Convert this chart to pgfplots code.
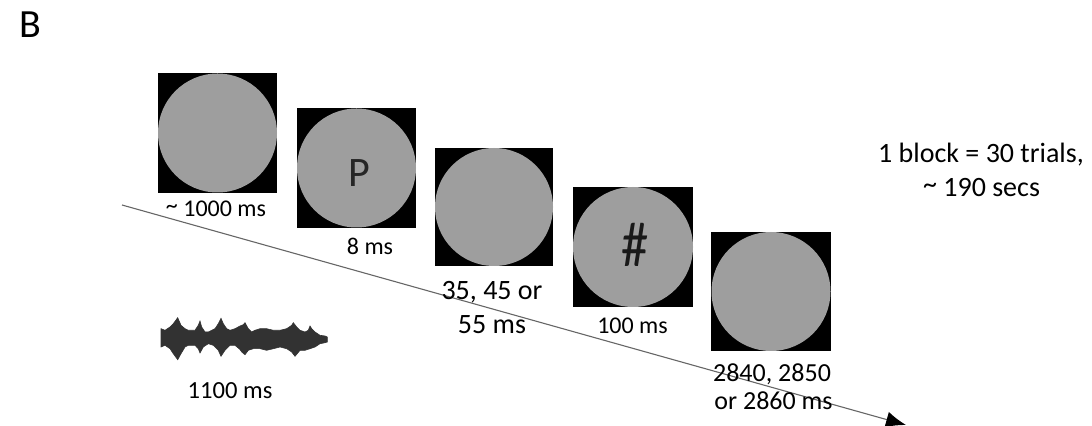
\documentclass[border=0pt]{standalone}
\usepackage{fontspec}
\setmainfont{Carlito}
\usepackage{pgfplots}
\pgfplotsset{compat=1.18}
\usetikzlibrary{arrows.meta}
\definecolor{disc}{RGB}{158,158,158}
\definecolor{wave}{RGB}{50,50,50}
\newcommand{\tld}{\raisebox{0.12em}{\textasciitilde}}
\begin{document}
\begin{tikzpicture}
\begin{axis}[
  width=546pt, height=213pt, scale only axis,
  xmin=0, xmax=1092, ymin=0, ymax=426, y dir=reverse,
  hide axis, clip=true,
]
% time arrow
\addplot[draw=black!60, line width=0.55pt, -{Latex[length=10pt,width=8pt,color=black]}] coordinates {(122,205) (906,425)};
% screens (black squares)
\addplot[fill=black, draw=none] coordinates {(158,73) (277,73) (277,193) (158,193)} -- cycle;
\addplot[fill=black, draw=none] coordinates {(297,108) (416,108) (416,228) (297,228)} -- cycle;
\addplot[fill=black, draw=none] coordinates {(435,148) (553,148) (553,266) (435,266)} -- cycle;
\addplot[fill=black, draw=none] coordinates {(573,187) (693,187) (693,307) (573,307)} -- cycle;
\addplot[fill=black, draw=none] coordinates {(711,232) (831,232) (831,351) (711,351)} -- cycle;
% grey discs
\fill[disc] (axis cs:217.5,133) circle[radius=59.5];
\fill[disc] (axis cs:356.5,168) circle[radius=59.5];
\fill[disc] (axis cs:494,207) circle[radius=59];
\fill[disc] (axis cs:633,247) circle[radius=60];
\fill[disc] (axis cs:771,291.5) circle[radius=59.5];
% sound waveform (envelope)
\addplot[fill=wave, draw=wave, line width=0.3pt] coordinates {
(161,328.7) (165,330.3) (170,327) (173.3,323.7) (177.7,317.7) (181,325.3)
(185,328.7) (188.3,330.3) (191.7,330.3) (195,330.3) (198.3,325.3) (200,321)
(201.7,327) (205,332) (208.3,332) (211.7,330.3) (215,328.7) (218.3,323.7)
(221,318.3) (223.3,323.7) (226.7,328.7) (230,330.3) (235,328.7) (240,326)
(243.3,324.7) (245,322.7) (248.3,328.7) (251.7,332) (255,330.3) (260,328.7)
(266.7,328.7) (273.3,330.3) (280,330.3) (286.7,328.7) (291.7,325.3) (293.3,322.7)
(296.7,327) (300,330.3) (305,332) (308.3,330.3) (310,326) (311.7,328.7)
(315,332) (320,335.3) (325,336) (327.3,337)
(327.3,342) (325,342.7) (320,343.7) (315,347) (310,348.7) (305,350.3)
(300,350.3) (295,356.3) (291.7,352) (286.7,348.7) (280,347) (273.3,348.7)
(266.7,350.3) (260,348.7) (253.3,348.7) (248.3,350.3) (245,354.7) (241.7,352)
(240,349.5) (235,345.3) (230,345.3) (225,350.3) (221,356.3) (218.3,350.3)
(213.3,345.3) (208.3,343.7) (203.3,347) (200,353) (198.3,348.7) (195,345.3)
(188.3,345.3) (185,347) (181,353.7) (177.7,359.7) (173.3,353.7) (170,348.7)
(165,345.3) (161,347)
} -- cycle;
% letters on screens
\node[anchor=center, font=\fontsize{21}{21}\selectfont, text=black!85] at (axis cs:359,173) {P};
\node[anchor=center, font=\fontsize{32}{32}\selectfont, text=black!90, xscale=0.85] at (axis cs:635,245) {\#};
% labels
\node[anchor=base west, font=\fontsize{20}{20}\selectfont] at (axis cs:12,38) {B};
\node[anchor=base, font=\fontsize{12}{14}\selectfont] at (axis cs:216,216.7) {\tld\ 1000 ms};
\node[anchor=base, font=\fontsize{12}{14}\selectfont] at (axis cs:370,255) {8 ms};
\node[anchor=base, font=\fontsize{14}{16}\selectfont] at (axis cs:492,300) {35, 45 or};
\node[anchor=base, font=\fontsize{14}{16}\selectfont] at (axis cs:492,333.3) {55 ms};
\node[anchor=base, font=\fontsize{12}{14}\selectfont] at (axis cs:632.5,333.3) {100 ms};
\node[anchor=base, font=\fontsize{13}{15}\selectfont] at (axis cs:772,381.7) {2840, 2850};
\node[anchor=base, font=\fontsize{13}{15}\selectfont] at (axis cs:773.5,410) {or 2860 ms};
\node[anchor=base, font=\fontsize{12.3}{14}\selectfont] at (axis cs:230,398.3) {1100 ms};
\node[anchor=base, font=\fontsize{14}{16}\selectfont] at (axis cs:981,162.7) {1 block = 30 trials,};
\node[anchor=base, font=\fontsize{14}{16}\selectfont] at (axis cs:981.5,196.7) {\tld\ 190 secs};
\end{axis}
\pgfresetboundingbox
\path[use as bounding box] (current axis.south west) rectangle (current axis.north east);
\end{tikzpicture}
\end{document}
